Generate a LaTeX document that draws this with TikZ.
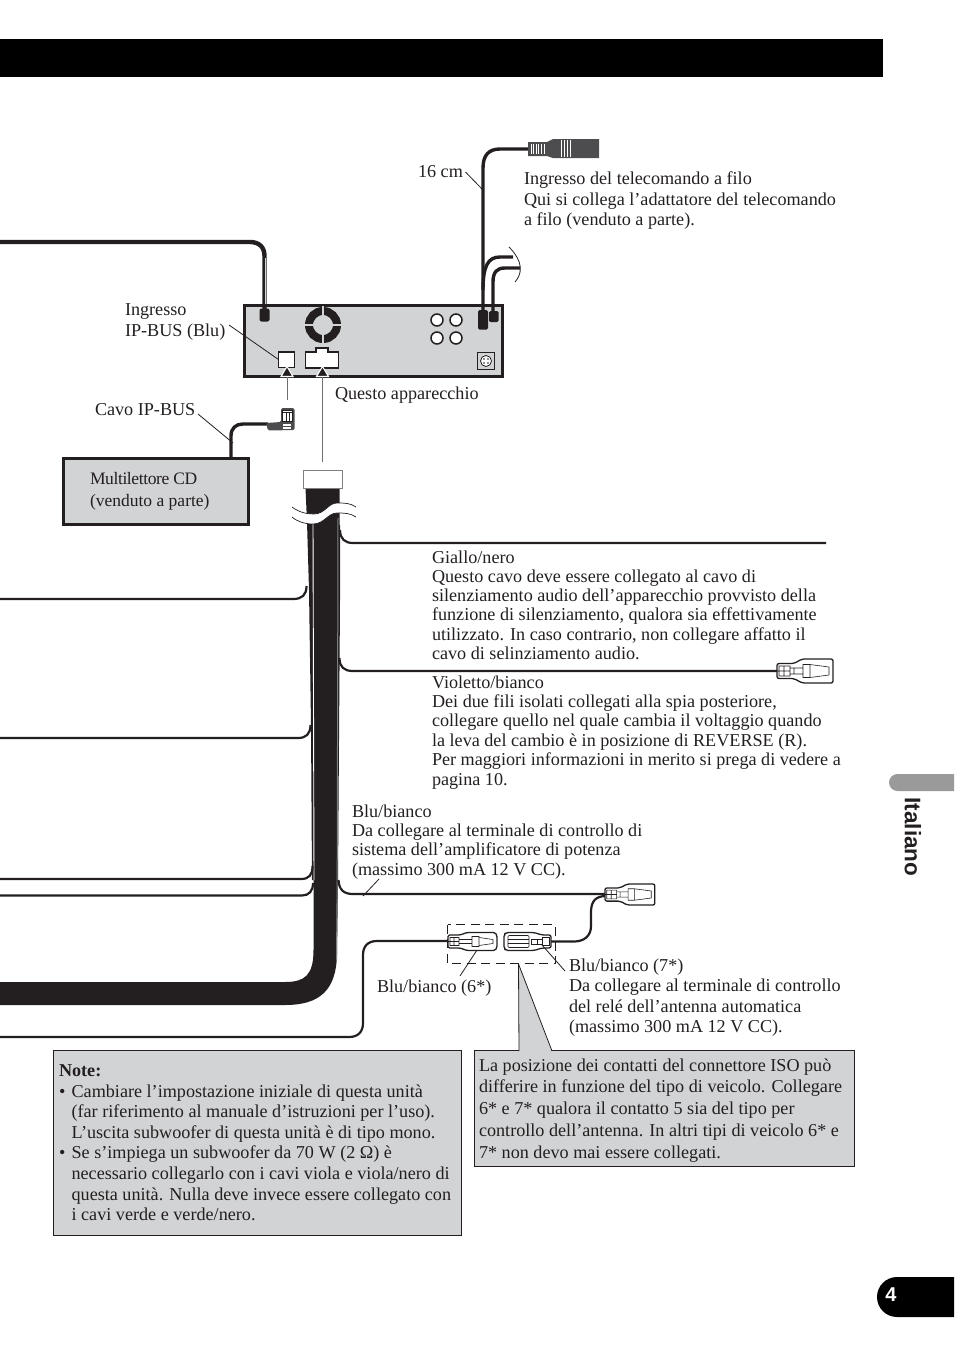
\documentclass[tikz,border=0pt]{standalone}
\usepackage{fontspec}
\setmainfont{Liberation Serif}
\newfontfamily\hv{Liberation Sans}
\definecolor{ink}{HTML}{231F20}
\definecolor{panel}{HTML}{D1D3D4}
\definecolor{tabgrey}{HTML}{9A9A9A}
\definecolor{plugdark}{HTML}{4D4D4F}
\definecolor{arrowline}{HTML}{6D6E71}
\tikzset{
 every node/.append style={outer sep=0pt},
 txt/.style={anchor=north west,inner sep=0pt,align=left,text=ink,font=\fontsize{18.15}{#1}\selectfont},
 txt/.default=20.5,
 cable/.style={draw=ink,line width=#1,line cap=butt,line join=round},
 cable/.default=2.2,
 leader/.style={draw=ink,line width=0.8},
 panelbox/.style={draw=ink,line width=0.9,fill=panel},
 headup/.style={fill=ink,draw=white,line width=1.1,line join=miter},
 plugout/.style={draw=ink,line width=1.3,fill=white,line join=round},
 plugin/.style={draw=ink,line width=0.6},
 plugA/.pic={
  \path[plugout,rounded corners=2] (0,-7.5)--(0,7.5)--(17,7.5)--(25,12)--(56,12)--(56,-12)--(25,-12)--(17,-7.5)--cycle;
  \draw[plugin] (2,-5) rectangle (13,5) (7,-5)--(7,5) (13,-3) rectangle (26,3) (17,-3)--(17,3) (26,-6.5) rectangle (33,6.5) (33,-6.5)--(52,-4) (33,6.5)--(52,4) (52,-4)--(52,4) (0,0)--(13,0);
 },
 plugB/.pic={
  \path[plugout,rounded corners=1.5] (0,-6.5)--(0,6.5)--(12,6.5)--(19,9)--(47,9)--(49,6)--(49,-6)--(47,-9)--(19,-9)--(12,-6.5)--cycle;
  \draw[plugin] (2,-4) rectangle (11,4) (6,-4)--(6,4) (11,-2) rectangle (24,2) (24,-5) rectangle (31,5) (31,-4)--(45,-2) (31,4)--(45,2) (45,-2)--(45,2) (0,0)--(11,0);
 },
 plugC/.pic={
  \path[plugout,rounded corners=2] (0,-6.5)--(0,6.5)--(9,6.5)--(17,9)--(45,9)--(47,7)--(47,-7)--(45,-9)--(17,-9)--(9,-6.5)--cycle;
  \draw[plugin] (2,-4) rectangle (9,4) (9,-2.5) rectangle (20,2.5) (14,-2.5)--(14,2.5);
  \draw[plugin,rounded corners=1] (22,-6) rectangle (43,6) (22,-2)--(43,-2) (22,2)--(43,2);
 },
}
\begin{document}
\begin{tikzpicture}[x=1pt,y=-1pt]
\useasboundingbox (0,0) rectangle (954,1355);
\fill[black] (0,39) rectangle (883,77);

% ---- main unit
\node[draw=ink,line width=3,fill=panel,minimum width=257.5,minimum height=71,inner sep=0pt,anchor=north west] (unit) at (244.5,305.5) {};
% upper left cable
\coordinate (cL) at (0,242);
\coordinate (cLend) at (264.5,314);
\draw[cable=4.4] (cL) -- (250,242) .. controls (259,242) and (264.5,247) .. (264.5,256) -- (cLend);
\draw[draw=panel,line width=0.9] (265,258) -- (265,304);
\node[fill=ink,rounded corners=2,minimum width=10,minimum height=13,inner sep=0pt] (plugL) at (264.5,315) {};
% ring
\node[draw=ink,circle,line width=8,fill=panel,minimum size=28,inner sep=0pt] (ring) at (323,325) {};
\draw[panel,line width=1.2] (323,306)--(323,316) (323,334)--(323,344) (304,325)--(314,325) (332,325)--(342,325);
% RCA
\foreach \n/\x/\y in {a/437/320,b/456/320,c/437/338,d/456/338}
 \node[draw=ink,circle,line width=1.5,fill=white,minimum size=12,inner sep=0pt] (rca\n) at (\x,\y) {};
% ground socket
\node[draw=ink,line width=0.8,fill=panel,minimum size=17,inner sep=0pt] (gnd) at (486,361) {};
\node[draw=ink,circle,line width=0.8,fill=white,minimum size=11,inner sep=0pt] (gndc) at (486,361) {};
\fill[ink] (484,359) circle (0.8) (488,359) circle (0.8) (484,363) circle (0.8) (488,363) circle (0.8);
% sockets
\node[draw=ink,line width=1.5,fill=white,minimum width=16,minimum height=15.5,inner sep=0pt] (ipsock) at (286.5,359.5) {};
\path[draw=ink,line width=1.5,fill=white] (305.5,352)--(316,352)--(316,348)--(328,348)--(328,352)--(338.5,352)--(338.5,368)--(305.5,368)--cycle;
% right cables
\coordinate (remPlug) at (528,149);
\draw[cable=3.4] (483,315) -- (483,168) .. controls (483,155) and (489,149) .. (500,149) -- (remPlug);
\draw[cable=3.4] (483,290) .. controls (483,266) and (488,257) .. (500,257) -- (513,257);
\draw[cable=3.4] (493,315) -- (493,282) .. controls (493,272) and (497,268) .. (505,268) -- (520,268);
\draw[ink,line width=0.8] (509,247) .. controls (516,254) and (527,268) .. (515,282);
\fill[ink,rounded corners=1.5] (478,310) rectangle (488,329.5);
\fill[ink,rounded corners=1.5] (489,311) rectangle (498.5,322);
% remote plug
\path[fill=plugdark] (528,142)--(547,142)--(553,139)--(599,139)--(599,158)--(553,158)--(547,156)--(528,156)--cycle;
\draw[white,line width=0.7] (531,144)--(531,154) (533.5,144)--(533.5,154) (536,144)--(536,154) (538.5,144)--(538.5,154) (541,144)--(541,154) (544,144)--(544,154) (561,140)--(561,157) (564,140)--(564,157) (567,140)--(567,157) (570,140)--(570,157);
% leader 16 cm
\node[txt,anchor=west] (l16) at (418,172) {16 cm};
\coordinate (l16b) at (483,190);
\draw[leader] (465.5,172) -- (l16b);
% remote text
\node[txt] (trem) at (524,172) {Ingresso del telecomando a filo\\Qui si collega l’adattatore del telecomando\\a filo (venduto a parte).};

% IP-BUS
\node[txt=21] (tip) at (125,303.5) {Ingresso\\IP-BUS (Blu)};
\draw[leader] (229,325) -- (ipsock.west);
\node[txt,anchor=west] (tcavo) at (95,409.5) {Cavo IP-BUS};
\node[draw=ink,line width=3,fill=panel,minimum width=185,minimum height=65.5,inner sep=0pt,anchor=north west] (cd) at (63.5,458.5) {};
\node[txt,font=\fontsize{17.5}{22}\selectfont] (tcd) at (90,472) {\addfontfeature{LetterSpace=-2.2}Multilettore CD\\(venduto a parte)};
\coordinate (ipPlug) at (268,424);
\coordinate (cdTop) at (231,458);
\draw[cable=3.4] (cdTop) -- (231,436) .. controls (231,428) and (236,424) .. (243,424) -- (ipPlug);
\path[fill=plugdark,rounded corners=1.5] (266,423)--(281,422)--(281,408)--(294.5,408)--(294.5,430)--(268,430.5)--cycle;
\path[draw=ink,line width=0.8,fill=white] (282.5,410) rectangle (292.5,421);
\draw[ink,line width=0.8] (286,412)--(286,421) (289,412)--(289,421) (282.5,412)--(292.5,412);
\draw[white,line width=1.2] (283,425)--(291,425) (283,428)--(291,428);
\coordinate (tipl) at (233,443);
\draw[leader] (198,414) -- (tipl);
\draw[arrowline,line width=1] (287,400) -- (287,376);
\path[headup] (287,366.5)--(281,376.5)--(293,376.5)--cycle;
\draw[arrowline,line width=1] (322.5,462) -- (322.5,376);
\path[headup] (322.5,366.5)--(316.5,376.5)--(328.5,376.5)--cycle;
\node[txt,anchor=west] (tq) at (335,395) {Questo apparecchio};

% ---- harness
\path[fill=ink] (305.5,488)--(339.5,488)--(339.5,525)--(340,525)--(340,600)--(339,740)--(338,880)--(337,955) .. controls (336,990) and (320,1005) .. (285,1005) -- (0,1005) -- (0,982) -- (285,982) .. controls (305,982) and (313.5,975) .. (313.5,950) -- (313.5,880) -- (312,880) -- (311,725) -- (309,590) -- (307,522) -- cycle;
\node[draw=gray,line width=0.9,fill=white,minimum width=38.5,minimum height=18,inner sep=0pt,anchor=north west] (hw) at (303.5,470.5) {};
\draw[white,line width=0.9] (313,522)--(314,880);
\draw[gray,line width=1] (338,518)--(337.2,880)--(336.5,960);
\path[fill=white] (292,507) .. controls (300,513) and (308,514) .. (314,514) .. controls (325,514) and (328,503) .. (337,503) .. controls (345,503) and (350,503) .. (356,507) -- (356,517) .. controls (350,513) and (344,513) .. (337,513) .. controls (328,513) and (324,524) .. (313,524) .. controls (305,524) and (298,522) .. (292,517) -- cycle;
\draw[ink,line width=0.7] (292,507) .. controls (300,513) and (308,514) .. (314,514) .. controls (325,514) and (328,503) .. (337,503) .. controls (345,503) and (350,503) .. (356,507);
\draw[ink,line width=0.7] (292,517) .. controls (298,522) and (305,524) .. (313,524) .. controls (324,524) and (328,513) .. (337,513) .. controls (344,513) and (350,513) .. (356,517);

% left wires
\coordinate (w1) at (0,599); \coordinate (w2) at (0,738); \coordinate (w3) at (0,879); \coordinate (w4) at (0,895.5);
\draw[cable] (w1) -- (293,599) .. controls (302,599) and (306.5,595) .. (306.5,586);
\draw[cable] (w2) -- (298,738) .. controls (306,738) and (310.5,734) .. (310.5,725);
\draw[cable] (w3) -- (301,879) .. controls (309,879) and (312.5,875) .. (312.5,866);
\draw[cable] (w4) -- (302,895.5) .. controls (309,895.5) and (313,891) .. (313,883);
% right wires
\coordinate (wr1) at (826,543);
\draw[cable] (340,530) .. controls (340,539) and (345,543) .. (353,543) -- (wr1);
\coordinate (wr2) at (778,671);
\draw[cable] (339.5,658) .. controls (339.5,667) and (344,671) .. (353,671) -- (wr2);
\draw[cable] (338.5,880) .. controls (339,890) and (344,894) .. (353,894) -- (605,894);
\draw[cable] (606,896) .. controls (596,896) and (591,901) .. (591,912) -- (591,926) .. controls (591,936) and (584,941.5) .. (574,941.5) -- (551,941.5);
\draw[cable] (448,941) -- (377,941) .. controls (368,941) and (363,946) .. (363,955) -- (363,1023) .. controls (363,1032) and (358,1037) .. (349,1037) -- (0,1037);

% plugs
\pic (pv) at (777,671) {plugA};
\pic[xscale=.89,yscale=.88] (pb) at (605,894.5) {plugA};
\pic (p6) at (448,941.5) {plugB};
\pic[xscale=-1] (p7) at (551,941.5) {plugC};
\draw[ink,line width=0.9,dash pattern=on 9pt off 5.5pt] (447.5,924.5) rectangle (555,963.5);

% leaders
\draw[leader] (379,879) -- (363,896);
\draw[leader] (460,976) -- (477,950);
\draw[leader] (565,971) -- (542,945);

% texts
\node[txt=19.25] (tg) at (432,550.5) {Giallo/nero\\Questo cavo deve essere collegato al cavo di\\silenziamento audio dell’apparecchio provvisto della\\funzione di silenziamento, qualora sia effettivamente\\utilizzato. In caso contrario, non collegare affatto il\\cavo di selinziamento audio.};
\node[txt=19.4] (tv) at (432,675.5) {Violetto/bianco\\Dei due fili isolati collegati alla spia posteriore,\\collegare quello nel quale cambia il voltaggio quando\\la leva del cambio è in posizione di REVERSE (R).\\Per maggiori informazioni in merito si prega di vedere a\\pagina 10.};
\node[txt=19.3] (tb) at (352,804.5) {Blu/bianco\\Da collegare al terminale di controllo di\\sistema dell’amplificatore di potenza\\(massimo 300 mA 12 V CC).};
\node[txt,anchor=west] (t6) at (377,988.5) {Blu/bianco (6*)};
\node[txt=20.5] (t7) at (569,958.5) {Blu/bianco (7*)\\Da collegare al terminale di controllo\\del relé dell’antenna automatica\\(massimo 300 mA 12 V CC).};

% note boxes
\node[panelbox,minimum width=407.5,minimum height=184.5,inner sep=0pt,anchor=north west] (note) at (53.5,1050.5) {};
\node[txt=20.6] (tn) at (59,1064.5) {\textbf{Note:}\\\makebox[12.6pt][l]{•}Cambiare l’impostazione iniziale di questa unità\\\makebox[12.6pt][l]{}(far riferimento al manuale d’istruzioni per l’uso).\\\makebox[12.6pt][l]{}L’uscita subwoofer di questa unità è di tipo mono.\\\makebox[12.6pt][l]{•}Se s’impiega un subwoofer da 70 W (2 Ω) è\\\makebox[12.6pt][l]{}necessario collegarlo con i cavi viola e viola/nero di\\\makebox[12.6pt][l]{}questa unità. Nulla deve invece essere collegato con\\\makebox[12.6pt][l]{}i cavi verde e verde/nero.};
\path[panelbox] (474.5,1050.5) rectangle (854.5,1166.5);
\path[fill=panel] (518.5,964) -- (519,1052) -- (552,1052) -- cycle;
\draw[ink,line width=0.8] (518.5,964) -- (519,1051) (518.5,964) -- (552,1051);
\node[txt=21.8] (ti) at (479,1058.5) {La posizione dei contatti del connettore ISO può\\differire in funzione del tipo di veicolo. Collegare\\6* e 7* qualora il contatto 5 sia del tipo per\\controllo dell’antenna. In altri tipi di veicolo 6* e\\7* non devo mai essere collegati.};

% tabs
\path[fill=tabgrey] (954,774) -- (897.5,774) arc[start angle=-90,end angle=-270,radius=8.5] -- (954,791) -- cycle;
\node[rotate=-90,inner sep=0pt,text=ink,font=\hv\bfseries\fontsize{22.5}{24}\selectfont] (tit) at (913,837) {Italiano};
\path[fill=black] (954,1277) -- (897,1277) arc[start angle=-90,end angle=-270,radius=20] -- (954,1317) -- cycle;
\node[inner sep=0pt,text=white,font=\hv\bfseries\fontsize{20}{24}\selectfont] (tpn) at (891,1295) {4};
\end{tikzpicture}
\end{document}
